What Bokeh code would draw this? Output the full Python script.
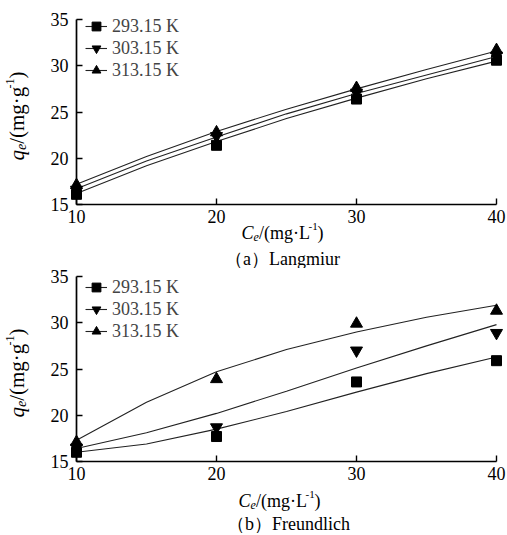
import math
from bokeh.plotting import figure
from bokeh.models import (Range1d, LinearAxis, FixedTicker, Label, Legend, LegendItem)
from bokeh.layouts import column
from bokeh.embed import file_html
from bokeh.resources import INLINE

# ---- data ----
ce = [10, 20, 30, 40]
temps = ["293.15 K", "303.15 K", "313.15 K"]
markers = ["square", "inverted_triangle", "triangle"]

# Langmuir panel: measured points
lang_293 = [16.1, 21.4, 26.4, 30.6]
lang_303 = [16.6, 22.4, 27.1, 31.1]
lang_313 = [17.1, 22.8, 27.6, 31.7]
# Langmuir fitted curves
fit_x = [10, 15, 20, 25, 30, 35, 40]
lang_fit_293 = [16.2, 19.2, 21.8, 24.3, 26.5, 28.6, 30.5]
lang_fit_303 = [16.7, 19.7, 22.3, 24.8, 27.0, 29.0, 31.0]
lang_fit_313 = [17.2, 20.2, 22.9, 25.3, 27.5, 29.6, 31.6]

# Freundlich panel: measured points
freu_293 = [16.0, 17.7, 23.6, 25.9]
freu_303 = [16.5, 18.7, 27.0, 28.9]
freu_313 = [17.1, 23.9, 29.9, 31.3]
# Freundlich fitted curves
freu_fit_293 = [16.0, 16.9, 18.5, 20.4, 22.5, 24.5, 26.3]
freu_fit_303 = [16.4, 18.1, 20.2, 22.6, 25.1, 27.5, 29.8]
freu_fit_313 = [17.3, 21.4, 24.7, 27.1, 29.0, 30.6, 31.9]

x_ticks = [10, 20, 30, 40]
y_ticks = [15, 20, 25, 30, 35]

FONT = "Liberation Serif"
XS = 14.0      # px per x unit
YS = 9.25      # px per y unit
W = 507
NAN = float("nan")


def make_panel(height, top35, pts, fits, legend_y):
    # frame covers the whole canvas; 35 sits at `top35` px from the top
    bottom15 = top35 + 185
    p = figure(width=W, height=height,
               x_range=Range1d(10 - 76 / XS, 40 + (W - 496) / XS),
               y_range=Range1d(15 - (height - bottom15) / YS, 35 + top35 / YS),
               output_backend="svg", toolbar_location=None,
               x_axis_location=None, y_axis_location=None,
               min_border_left=0, min_border_right=0,
               min_border_top=0, min_border_bottom=0)
    p.outline_line_color = None
    p.grid.visible = False
    p.background_fill_color = "white"
    p.border_fill_color = "white"

    xa = LinearAxis(fixed_location=15, bounds=(10, 40), ticker=FixedTicker(ticks=x_ticks))
    ya = LinearAxis(fixed_location=10, bounds=(15, 35), ticker=FixedTicker(ticks=y_ticks))
    for ax, so in ((xa, 5), (ya, 8)):
        ax.axis_line_width = 1.7
        ax.axis_line_color = "black"
        ax.major_tick_in = 6
        ax.major_tick_out = 0
        ax.minor_tick_in = 0
        ax.minor_tick_out = 0
        ax.major_tick_line_width = 1.4
        ax.major_label_text_font = FONT
        ax.major_label_text_font_size = "18px"
        ax.major_label_text_color = "black"
        ax.major_label_standoff = so
    p.add_layout(xa, "below")
    p.add_layout(ya, "left")

    items = []
    for lab, mk, yv, fv in zip(temps, markers, pts, fits):
        p.line(fit_x, fv, line_color="#222222", line_width=1.1)
        sz = 10 if mk == "square" else 12
        p.scatter(ce, yv, marker=mk, size=sz, fill_color="black", line_color="black")
        # legend-only glyphs (smaller marker on a short line), never visible in the frame
        ll = p.line([NAN, NAN], [NAN, NAN], line_color="#222222", line_width=1.1)
        ls = p.scatter([NAN], [NAN], marker=mk, size=(8 if mk == "square" else 9),
                       fill_color="black", line_color="black")
        items.append(LegendItem(label=lab, renderers=[ll, ls]))

    leg = Legend(items=items, location=(85, legend_y), orientation="vertical",
                 label_text_font=FONT, label_text_font_size="18px",
                 glyph_width=22, glyph_height=22, label_height=22,
                 label_standoff=5, spacing=0, padding=0, margin=0,
                 border_line_color=None, background_fill_alpha=0)
    p.add_layout(leg, "center")

    def lbl(x, y, text, size, style="normal", xo=0, yo=0, angle=0.0,
            align="left", baseline="middle"):
        p.add_layout(Label(x=x, y=y, text=text, x_offset=xo, y_offset=yo,
                           angle=angle, text_font=FONT, text_font_size=size,
                           text_font_style=style, text_color="black",
                           text_align=align, text_baseline=baseline))
    return p, lbl


def add_texts(lbl, xlab_cx, xlab_y, cap_cx, cap_y, caption):
    # x axis label: C_e/(mg·L^-1)
    x0 = 10 + (xlab_cx - 84 / 2 - 76) / XS
    lbl(x0, xlab_y, "C", "18px", "italic")
    lbl(x0, xlab_y, "e", "12px", "italic", xo=12, yo=-4)
    lbl(x0, xlab_y, "/(mg·L", "18px", xo=17.5)
    lbl(x0, xlab_y, "-1", "11px", xo=67, yo=6)
    lbl(x0, xlab_y, ")", "18px", xo=76)
    # caption
    lbl(10 + (cap_cx - 76) / XS, cap_y, caption, "18px", align="center")
    # y axis label: q_e/(mg·g^-1), rotated
    yx = 10 - (76 - 16) / XS
    yy = 15 + 44 / YS
    a = math.pi / 2
    lbl(yx, yy, "q", "21px", "italic", angle=a)
    lbl(yx, yy, "e", "14px", "italic", xo=4, yo=10.5, angle=a)
    lbl(yx, yy, "/(mg·g", "21px", yo=16.7, angle=a)
    lbl(yx, yy, "-1", "12px", xo=-7, yo=72, angle=a)
    lbl(yx, yy, ")", "21px", yo=82, angle=a)


H1, H2 = 268, 267
p1, lbl1 = make_panel(H1, 19, [lang_293, lang_303, lang_313],
                      [lang_fit_293, lang_fit_303, lang_fit_313], H1 - 81)
add_texts(lbl1, 283, 15 - 28 / YS, 282, 15 - 54 / YS, "（a）Langmiur")

p2, lbl2 = make_panel(H2, 8, [freu_293, freu_303, freu_313],
                      [freu_fit_293, freu_fit_303, freu_fit_313], H2 - 74)
add_texts(lbl2, 280, 15 - 39 / YS, 288, 15 - 62 / YS, "（b）Freundlich")

layout = column(p1, p2, spacing=0)
open("out.html", "w").write(file_html(layout, INLINE))
